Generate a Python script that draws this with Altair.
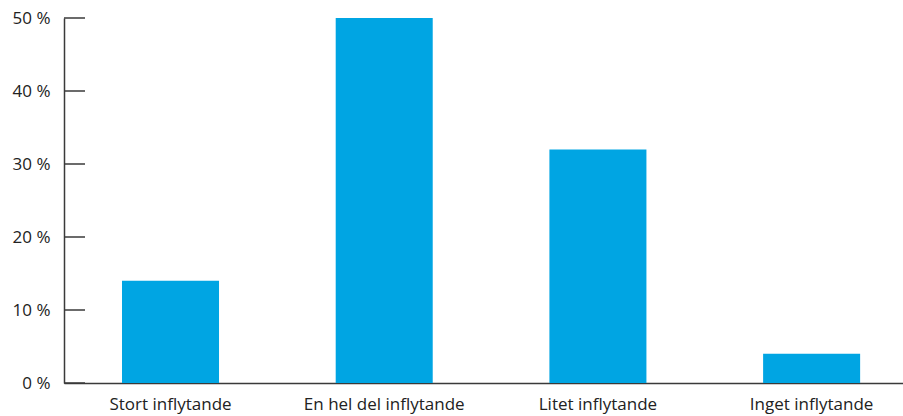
import altair as alt
import pandas as pd

categories = ["Stort inflytande", "En hel del inflytande", "Litet inflytande", "Inget inflytande"]
values = [14, 50, 32, 4]
tick_values = [0, 10, 20, 30, 40, 50]

df = pd.DataFrame({"kategori": categories, "andel": values})
ticks_df = pd.DataFrame({"t": tick_values})

FONT = "Open Sans"
AX = "#3a3a3a"

yscale = alt.Scale(domain=[0, 50], nice=False)
xscale = alt.Scale(domain=categories, paddingInner=0.546, paddingOuter=0.236, align=0.575)

bars = alt.Chart(df).mark_bar(color="#00A5E3").encode(
    x=alt.X("kategori:N", sort=categories, scale=xscale, title=None,
            axis=alt.Axis(labelAngle=0, ticks=False, domainColor=AX, domainWidth=1.5,
                          labelFont=FONT, labelFontSize=17, labelColor="#222",
                          labelPadding=13)),
    y=alt.Y("andel:Q", scale=yscale, title=None,
            axis=alt.Axis(values=tick_values, labelExpr="datum.value + ' %'", ticks=False,
                          grid=False, domainColor=AX, domainWidth=1.5,
                          labelFont=FONT, labelFontSize=17, labelColor="#222",
                          labelPadding=14)),
)

tick_rules = alt.Chart(ticks_df).mark_rule(color=AX, strokeWidth=1.5).encode(
    x=alt.value(0), x2=alt.value(21),
    y=alt.Y("t:Q", scale=yscale),
)

chart = alt.layer(bars, tick_rules).properties(
    width=839, height=365,
    autosize=alt.AutoSizeParams(type="none"),
    padding={"left": 64, "top": 18, "right": 0, "bottom": 33},
).configure_view(stroke=None)

chart.save("out.html", embed_options={"renderer": "svg", "actions": False})
